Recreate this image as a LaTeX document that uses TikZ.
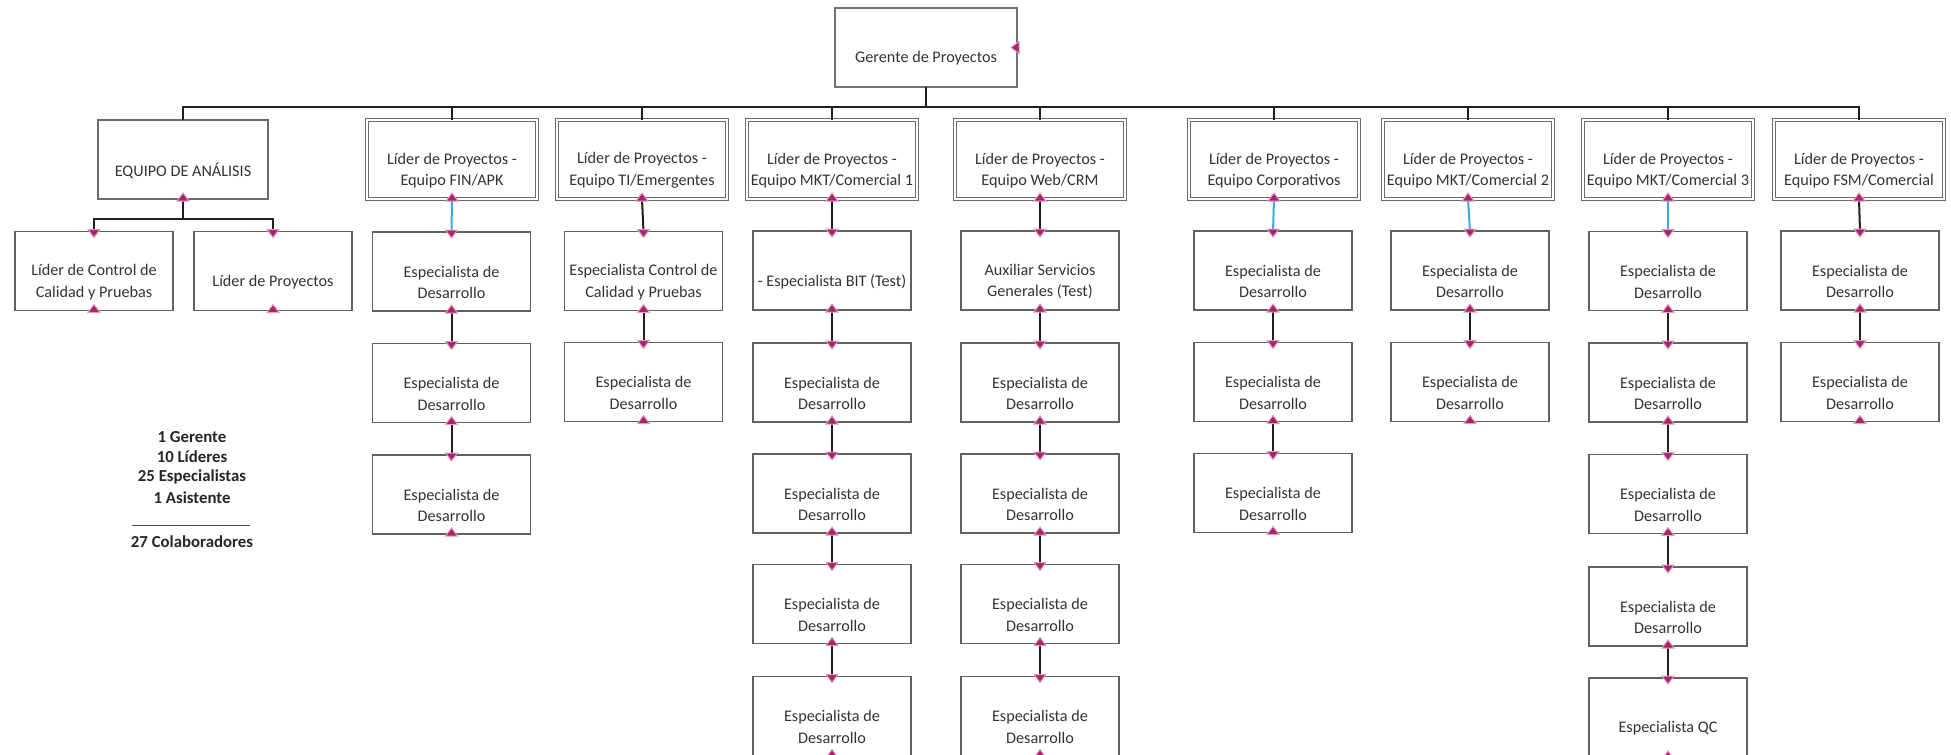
\documentclass[tikz,border=0pt]{standalone}
\usepackage{fontspec}
\setmainfont{Carlito}
\definecolor{blu}{HTML}{3FA7DD}
\definecolor{mkf}{HTML}{A3266A}
\definecolor{mkd}{HTML}{E79AC4}
\definecolor{txt}{HTML}{333333}
\newcommand\mkup[1]{\filldraw[mk] ([xshift=-3pt,yshift=-1pt]#1) -- ([xshift=3pt,yshift=-1pt]#1) -- ([yshift=3pt]#1) -- cycle;}
\newcommand\mkdn[1]{\filldraw[mk] ([xshift=-3pt,yshift=1pt]#1) -- ([xshift=3pt,yshift=1pt]#1) -- ([yshift=-3pt]#1) -- cycle;}
\newcommand\bx[5]{\node[#2] (#1) at (#3,#4) {}; \node[lbl] (#1t) at ([yshift=-5.5pt]#1.center) {#5};}
\begin{document}
\begin{tikzpicture}[x=0.5pt,y=-0.5pt,
  every node/.style={inner sep=0pt, outer sep=0pt},
  base/.style={rectangle, minimum width=79pt, minimum height=39.5pt},
  spec/.style={base, draw=black!62, line width=0.7pt},
  head/.style={base, minimum width=85pt, draw=black!58, line width=0.55pt, double=white, double distance=0.9pt},
  eqbox/.style={base, minimum width=85pt, draw=black!58, line width=1.1pt},
  gbox/.style={base, minimum width=91pt, draw=black!55, line width=1.4pt},
  lbl/.style={font=\fontsize{8.1}{10.8}\selectfont, text=txt, align=center},
  leg/.style={font=\bfseries\fontsize{8.4}{10}\selectfont, text=black!85, align=center},
  cn/.style={line width=1pt, draw=black!88},
  cnb/.style={line width=1pt, draw=blu},
  mk/.style={fill=mkf, draw=mkd, line width=0.5pt, line join=miter}]
\useasboundingbox (0,0) rectangle (1951,755);
\clip (0,0) rectangle (1951,755);
% top
\bx{g}{gbox}{926}{47.5}{Gerente de Proyectos}
\bx{eq}{eqbox}{183}{159.5}{EQUIPO DE ANÁLISIS}
\bx{c1}{spec}{94}{271}{Líder de Control de\\Calidad y Pruebas}
\bx{c2}{spec}{273}{271}{Líder de Proyectos}
% headers
\bx{h1}{head}{452}{159.5}{Líder de Proyectos -\\Equipo FIN/APK}
\bx{h2}{head}{642}{159.5}{Líder de Proyectos -\\Equipo TI/Emergentes}
\bx{h3}{head}{832}{159.5}{Líder de Proyectos -\\Equipo MKT/Comercial 1}
\bx{h4}{head}{1040}{159.5}{Líder de Proyectos -\\Equipo Web/CRM}
\bx{h5}{head}{1274}{159.5}{Líder de Proyectos -\\Equipo Corporativos}
\bx{h6}{head}{1468}{159.5}{Líder de Proyectos -\\Equipo MKT/Comercial 2}
\bx{h7}{head}{1668}{159.5}{Líder de Proyectos -\\Equipo MKT/Comercial 3}
\bx{h8}{head}{1859}{159.5}{Líder de Proyectos -\\Equipo FSM/Comercial}
% column 1 FIN
\bx{a1}{spec}{451.5}{271.5}{Especialista de\\Desarrollo}
\bx{a2}{spec}{451.5}{383}{Especialista de\\Desarrollo}
\bx{a3}{spec}{451.5}{494.5}{Especialista de\\Desarrollo}
% column 2 TI
\bx{b1}{spec}{643.5}{271}{Especialista Control de\\Calidad y Pruebas}
\bx{b2}{spec}{643.5}{382}{Especialista de\\Desarrollo}
% column 3 MKT1
\bx{d1}{spec}{832}{270.5}{- Especialista BIT (Test)}
\bx{d2}{spec}{832}{382.5}{Especialista de\\Desarrollo}
\bx{d3}{spec}{832}{493.5}{Especialista de\\Desarrollo}
\bx{d4}{spec}{832}{604}{Especialista de\\Desarrollo}
\bx{d5}{spec}{832}{716}{Especialista de\\Desarrollo}
% column 4 Web
\bx{e1}{spec}{1040}{270.5}{Auxiliar Servicios\\Generales (Test)}
\bx{e2}{spec}{1040}{382.5}{Especialista de\\Desarrollo}
\bx{e3}{spec}{1040}{493.5}{Especialista de\\Desarrollo}
\bx{e4}{spec}{1040}{604}{Especialista de\\Desarrollo}
\bx{e5}{spec}{1040}{716}{Especialista de\\Desarrollo}
% column 5 Corp
\bx{f1}{spec}{1273}{270.5}{Especialista de\\Desarrollo}
\bx{f2}{spec}{1273}{382}{Especialista de\\Desarrollo}
\bx{f3}{spec}{1273}{493}{Especialista de\\Desarrollo}
% column 6 MKT2
\bx{k1}{spec}{1470}{270.5}{Especialista de\\Desarrollo}
\bx{k2}{spec}{1470}{382}{Especialista de\\Desarrollo}
% column 7 MKT3
\bx{m1}{spec}{1668}{271}{Especialista de\\Desarrollo}
\bx{m2}{spec}{1668}{382.5}{Especialista de\\Desarrollo}
\bx{m3}{spec}{1668}{494}{Especialista de\\Desarrollo}
\bx{m4}{spec}{1668}{606.5}{Especialista de\\Desarrollo}
\bx{m5}{spec}{1668}{717.5}{Especialista QC}
% column 8 FSM
\bx{n1}{spec}{1860}{270.5}{Especialista de\\Desarrollo}
\bx{n2}{spec}{1860}{382}{Especialista de\\Desarrollo}
% main bus
\draw[cn] (g.south) -- ++(0,20);
\draw[cn] (eq.north) -- ++(0,-13) -| (h8.north);
\foreach \h in {h1,h2,h3,h4,h5,h6,h7} {\draw[cn] (\h.north) -- ++(0,-13);}
% analysis team
\draw[cn] (eq.south) -- ++(0,19);
\draw[cn] (c1.north) -- ++(0,-13) -| (c2.north);
% columns
\draw[cnb] (h1.south) -- (a1.north);
\draw[cn] (a1.south) -- (a2.north);
\draw[cn] (a2.south) -- (a3.north);
\draw[cn] (h2.south) -- (b1.north);
\draw[cn] (b1.south) -- (b2.north);
\draw[cn] (h3.south) -- (d1.north);
\draw[cn] (d1.south) -- (d2.north);
\draw[cn] (d2.south) -- (d3.north);
\draw[cn] (d3.south) -- (d4.north);
\draw[cn] (d4.south) -- (d5.north);
\draw[cn] (h4.south) -- (e1.north);
\draw[cn] (e1.south) -- (e2.north);
\draw[cn] (e2.south) -- (e3.north);
\draw[cn] (e3.south) -- (e4.north);
\draw[cn] (e4.south) -- (e5.north);
\draw[cnb] (h5.south) -- (f1.north);
\draw[cn] (f1.south) -- (f2.north);
\draw[cn] (f2.south) -- (f3.north);
\draw[cnb] (h6.south) -- (k1.north);
\draw[cn] (k1.south) -- (k2.north);
\draw[cnb] (h7.south) -- (m1.north);
\draw[cn] (m1.south) -- (m2.north);
\draw[cn] (m2.south) -- (m3.north);
\draw[cn] (m3.south) -- (m4.north);
\draw[cn] (m4.south) -- (m5.north);
\draw[cn] (h8.south) -- (n1.north);
\draw[cn] (n1.south) -- (n2.north);
% markers
\foreach \n in {eq,c1,c2,h1,h2,h3,h4,h5,h6,h7,h8,a1,a2,a3,b1,b2,d1,d2,d3,d4,d5,e1,e2,e3,e4,e5,f1,f2,f3,k1,k2,m1,m2,m3,m4,m5,n1,n2} {\mkup{\n.south}}
\foreach \n in {c1,c2,a1,a2,a3,b1,b2,d1,d2,d3,d4,d5,e1,e2,e3,e4,e5,f1,f2,f3,k1,k2,m1,m2,m3,m4,m5,n1,n2} {\mkdn{\n.north}}
\filldraw[mk] ([xshift=1pt,yshift=-3pt]g.east) -- ([xshift=1pt,yshift=3pt]g.east) -- ([xshift=-3pt]g.east) -- cycle;
% legend
\node[leg] (l1) at (192,437) {1 Gerente};
\node[leg] (l2) at (192,457) {10 Líderes};
\node[leg] (l3) at (192,477) {25 Especialistas};
\node[leg] (l4) at (192,498) {1 Asistente};
\draw[line width=0.5pt, black!70] (132,525) -- (250,525);
\node[leg] (l5) at (192,542) {27 Colaboradores};
\end{tikzpicture}
\end{document}
